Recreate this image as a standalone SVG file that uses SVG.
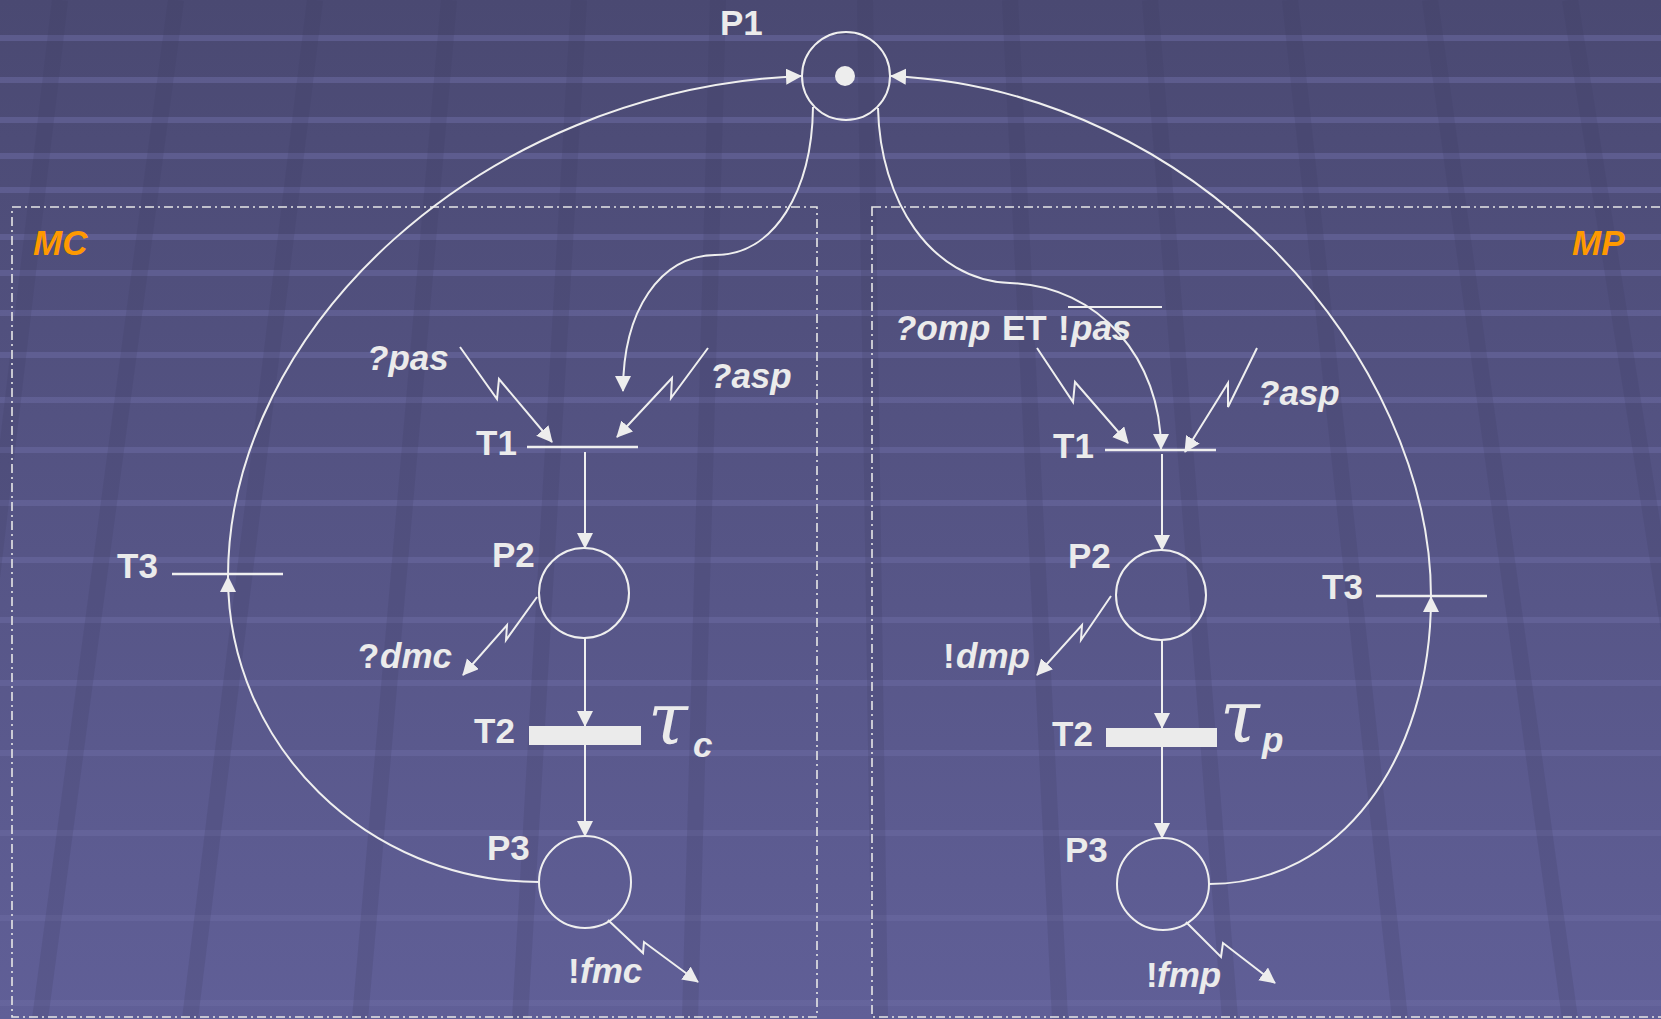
<svg xmlns="http://www.w3.org/2000/svg" width="1661" height="1019" viewBox="0 0 1661 1019">
<defs>
<linearGradient id="bg" x1="0" y1="0" x2="0" y2="1">
<stop offset="0" stop-color="#4a4972"/>
<stop offset="1" stop-color="#605f97"/>
</linearGradient>
<marker id="ah" markerUnits="userSpaceOnUse" markerWidth="17" markerHeight="17" refX="15" refY="8" orient="auto">
<path d="M0,0 L16,8 L0,16 z" fill="#ededed"/>
</marker>
<style>
.lbl{font-family:"Liberation Sans",Arial,sans-serif;font-weight:bold;font-size:35px;fill:#ebebeb}
.it{font-style:italic}
.org{fill:#ff9900}
.ln{stroke:#efefef;stroke-width:2;fill:none}
.arr{stroke:#efefef;stroke-width:2;fill:none;marker-end:url(#ah)}
.bar{stroke:#efefef;stroke-width:2.5}
.box{stroke:#e6e6e6;stroke-width:1.6;fill:none;stroke-dasharray:9 4 2 4}
.tau{font-family:"DejaVu Serif","Liberation Serif",serif;font-style:italic;font-size:72px;fill:#ebebeb}
.hb{stroke:#6b6aa2;stroke-width:6;opacity:0.55}
.vs{stroke:#3e3d63;stroke-width:16;opacity:0.2}
</style>
</defs>
<rect width="1661" height="1019" fill="url(#bg)"/>
<g id="background">
<g class="hb">
<line x1="0" y1="38" x2="1661" y2="38"/><line x1="0" y1="80" x2="1661" y2="80"/><line x1="0" y1="120" x2="1661" y2="120"/><line x1="0" y1="156" x2="1661" y2="156"/><line x1="0" y1="190" x2="1661" y2="190"/><line x1="0" y1="237" x2="1661" y2="237"/><line x1="0" y1="273" x2="1661" y2="273"/><line x1="0" y1="313" x2="1661" y2="313"/><line x1="0" y1="355" x2="1661" y2="355"/><line x1="0" y1="400" x2="1661" y2="400"/><line x1="0" y1="450" x2="1661" y2="450"/><line x1="0" y1="503" x2="1661" y2="503"/><line x1="0" y1="560" x2="1661" y2="560"/><line x1="0" y1="620" x2="1661" y2="620"/><line x1="0" y1="683" x2="1661" y2="683"/><line x1="0" y1="753" x2="1661" y2="753"/><line x1="0" y1="833" x2="1661" y2="833"/><line x1="0" y1="918" x2="1661" y2="918"/><line x1="0" y1="1003" x2="1661" y2="1003"/>
</g>
<g class="vs">
<line x1="60" y1="0" x2="-60" y2="1019"/><line x1="176" y1="0" x2="40" y2="1019"/><line x1="315" y1="0" x2="190" y2="1019"/><line x1="449" y1="0" x2="360" y2="1019"/><line x1="579" y1="0" x2="520" y2="1019"/><line x1="718" y1="0" x2="690" y2="1019"/><line x1="865" y1="0" x2="880" y2="1019"/><line x1="1010" y1="0" x2="1060" y2="1019"/><line x1="1150" y1="0" x2="1230" y2="1019"/><line x1="1290" y1="0" x2="1400" y2="1019"/><line x1="1430" y1="0" x2="1570" y2="1019"/><line x1="1570" y1="0" x2="1730" y2="1019"/>
</g>
</g>
<g id="boxes">
<rect class="box" x="12" y="207" width="805" height="810"/>
<rect class="box" x="872" y="207" width="800" height="810"/>
<text class="lbl it org" x="33" y="255">MC</text>
<text class="lbl it org" x="1572" y="255">MP</text>
</g>
<g id="connectors">
<path class="arr" d="M539,882 C367,882 228,745 228,577"/>
<path class="arr" d="M228,577 C228,330 480,90 801,76"/>
<path class="arr" d="M1209,884 C1340,884 1431,760 1431,597"/>
<path class="arr" d="M1431,597 C1431,360 1200,90 891,76"/>
<path class="arr" d="M813,107 C812,190 775,255 715,255 C660,256 623,310 623,391"/>
<path class="arr" d="M878,108 C880,200 930,280 1010,283 C1100,286 1161,360 1161,449"/>
<line class="arr" x1="585" y1="452" x2="585" y2="548"/>
<line class="arr" x1="585" y1="638" x2="585" y2="726"/>
<line class="arr" x1="585" y1="745" x2="585" y2="836"/>
<line class="arr" x1="1162" y1="454" x2="1162" y2="550"/>
<line class="arr" x1="1162" y1="640" x2="1162" y2="728"/>
<line class="arr" x1="1162" y1="747" x2="1162" y2="838"/>
<polyline class="arr" points="460,347 497,399 499,379 552,442"/>
<polyline class="arr" points="708,348 671,398 672,378 617,437"/>
<polyline class="arr" points="537,597 506,640 507,625 463,675"/>
<polyline class="arr" points="608,920 643,953 644,942 698,982"/>
<polyline class="arr" points="1037,348 1073,402 1075,382 1128,443"/>
<polyline class="arr" points="1257,348 1228,407 1228,383 1185,452"/>
<polyline class="arr" points="1111,596 1081,640 1082,625 1037,675"/>
<polyline class="arr" points="1186,922 1221,957 1223,943 1275,983"/>
</g>
<g id="P1">
<circle class="ln" cx="846" cy="76" r="44"/>
<circle cx="845" cy="76" r="10" fill="#ededed"/>
<text class="lbl" x="720" y="35">P1</text>
</g>
<g id="MC-T1">
<line class="bar" x1="527" y1="447" x2="638" y2="447"/>
<text class="lbl" x="476" y="455">T1</text>
<text class="lbl it" x="367" y="370">?pas</text>
<text class="lbl it" x="710" y="388">?asp</text>
</g>
<g id="MC-P2">
<circle class="ln" cx="584" cy="593" r="45"/>
<text class="lbl" x="492" y="567">P2</text>
<text class="lbl" x="358" y="668">?<tspan class="it" x="380">dmc</tspan></text>
</g>
<g id="MC-T2">
<rect x="529" y="726" width="112" height="19" fill="#ebebeb"/>
<text class="lbl" x="474" y="743">T2</text>
<text class="tau" x="648" y="744">τ</text>
<text class="lbl it" x="693" y="757">c</text>
</g>
<g id="MC-P3">
<circle class="ln" cx="585" cy="882" r="46"/>
<text class="lbl" x="487" y="860">P3</text>
<text class="lbl" x="568" y="983">!<tspan class="it" x="580">fmc</tspan></text>
</g>
<g id="MC-T3">
<line class="bar" x1="172" y1="574" x2="283" y2="574"/>
<text class="lbl" x="117" y="578">T3</text>
</g>
<g id="MP-T1">
<line class="bar" x1="1105" y1="450" x2="1216" y2="450"/>
<text class="lbl" x="1053" y="458">T1</text>
<text class="lbl" x="895" y="340"><tspan class="it">?omp</tspan><tspan x="1002">ET</tspan><tspan x="1058">!</tspan><tspan class="it" x="1071">pas</tspan></text>
<line class="ln" x1="1068" y1="307" x2="1162" y2="307"/>
<text class="lbl it" x="1258" y="405">?asp</text>
</g>
<g id="MP-P2">
<circle class="ln" cx="1161" cy="595" r="45"/>
<text class="lbl" x="1068" y="568">P2</text>
<text class="lbl" x="943" y="668">!<tspan class="it" x="956">dmp</tspan></text>
</g>
<g id="MP-T2">
<rect x="1106" y="728" width="111" height="19" fill="#ebebeb"/>
<text class="lbl" x="1052" y="746">T2</text>
<text class="tau" x="1220" y="742">τ</text>
<text class="lbl it" x="1262" y="752">p</text>
</g>
<g id="MP-P3">
<circle class="ln" cx="1163" cy="884" r="46"/>
<text class="lbl" x="1065" y="862">P3</text>
<text class="lbl" x="1146" y="987">!<tspan class="it" x="1157">fmp</tspan></text>
</g>
<g id="MP-T3">
<line class="bar" x1="1376" y1="596" x2="1487" y2="596"/>
<text class="lbl" x="1322" y="599">T3</text>
</g>
</svg>
